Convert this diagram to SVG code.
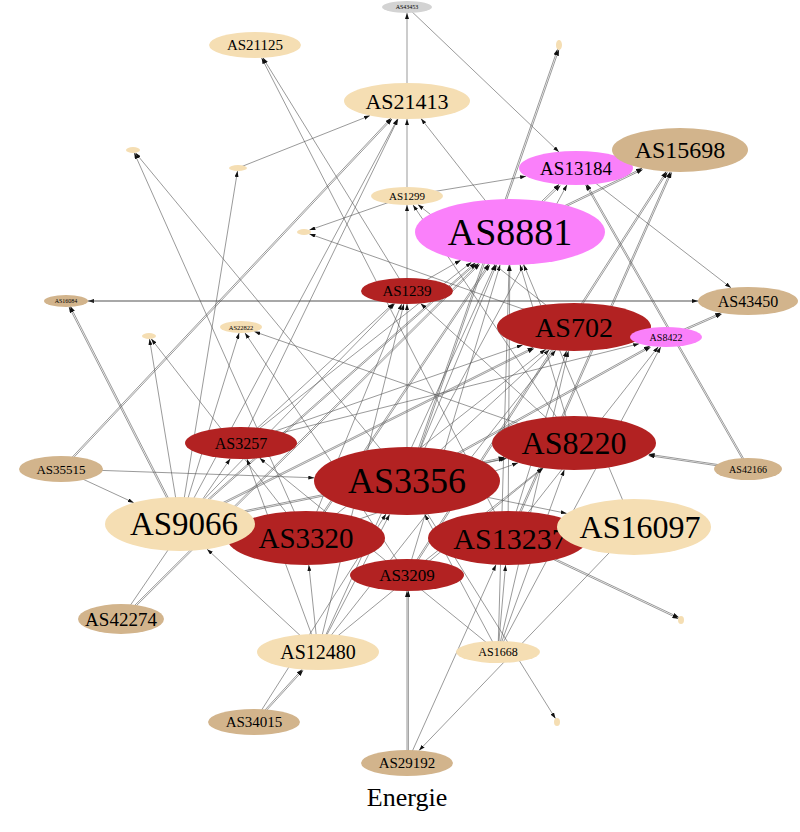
<svg xmlns="http://www.w3.org/2000/svg" width="800" height="832" viewBox="0 0 800 832">
<defs>
<marker id="ah" markerUnits="userSpaceOnUse" markerWidth="6" markerHeight="4" refX="6" refY="2" orient="auto">
<path d="M0,0 L6,2 L0,4 z" fill="#111"/>
</marker>
<style>
.e line{stroke:#555;stroke-width:0.6;fill:none;marker-end:url(#ah)}
.w{fill:#f5deb3}.t{fill:#d2b48c}.r{fill:#b22222}.v{fill:#fa80fa}.g{fill:#d3d3d3}
text{font-family:"Liberation Serif","Times New Roman",serif;text-anchor:middle;dominant-baseline:central;fill:#000}
</style>
</defs>
<rect width="800" height="832" fill="#fff"/>
<g id="edges" class="e">
<line x1="407" y1="101" x2="407" y2="13"/>
<line x1="407" y1="7" x2="559" y2="152"/>
<line x1="407" y1="196" x2="407" y2="119"/>
<line x1="407" y1="291" x2="407" y2="205"/>
<line x1="407" y1="481" x2="407" y2="304"/>
<line x1="510" y1="232" x2="421" y2="118.6"/>
<line x1="241" y1="443" x2="398" y2="119"/>
<line x1="61" y1="469" x2="391" y2="118"/>
<line x1="62" y1="470" x2="392" y2="119"/>
<line x1="180" y1="524" x2="397.5" y2="119"/>
<line x1="238" y1="168" x2="370" y2="115.6"/>
<line x1="180" y1="524" x2="237.5" y2="171"/>
<line x1="306" y1="538" x2="134.3" y2="153"/>
<line x1="407" y1="481" x2="135.4" y2="152.8"/>
<line x1="407" y1="196" x2="309.4" y2="230.1"/>
<line x1="574" y1="327" x2="309.4" y2="233.9"/>
<line x1="748" y1="301" x2="88" y2="301"/>
<line x1="66" y1="301" x2="698" y2="301"/>
<line x1="180" y1="524" x2="69" y2="307"/>
<line x1="181.3" y1="523.3" x2="70.3" y2="306.3"/>
<line x1="180" y1="524" x2="149.5" y2="339"/>
<line x1="306" y1="538" x2="151.2" y2="338.8"/>
<line x1="180" y1="524" x2="239.1" y2="333"/>
<line x1="407" y1="575" x2="245" y2="332.9"/>
<line x1="574" y1="443" x2="254.3" y2="331.6"/>
<line x1="407" y1="291" x2="262.9" y2="57.8"/>
<line x1="508" y1="538" x2="261.6" y2="57.9"/>
<line x1="407" y1="481" x2="557.5" y2="49.3"/>
<line x1="408.4" y1="481.5" x2="558.9" y2="49.8"/>
<line x1="407" y1="196" x2="526.1" y2="176.3"/>
<line x1="510" y1="232" x2="559.2" y2="184.3"/>
<line x1="511" y1="233" x2="560.5" y2="185.5"/>
<line x1="407" y1="481" x2="567" y2="184.8"/>
<line x1="576" y1="168" x2="731" y2="287.8"/>
<line x1="748" y1="469" x2="585.6" y2="184.8"/>
<line x1="749.2" y1="468.3" x2="586.8" y2="184.1"/>
<line x1="510" y1="232" x2="642.1" y2="168.3"/>
<line x1="510.6" y1="233.3" x2="642.7" y2="169.6"/>
<line x1="508" y1="538" x2="670.3" y2="171.8"/>
<line x1="509.3" y1="538.6" x2="671.6" y2="172.4"/>
<line x1="407" y1="575" x2="666.2" y2="171.5"/>
<line x1="408.2" y1="575.8" x2="667.4" y2="172.3"/>
<line x1="666" y1="337" x2="721.1" y2="312.8"/>
<line x1="666.6" y1="338.3" x2="721.7" y2="314.1"/>
<line x1="241" y1="443" x2="639.2" y2="343.7"/>
<line x1="407" y1="481" x2="649.9" y2="346"/>
<line x1="407.7" y1="482.2" x2="650.6" y2="347.2"/>
<line x1="498" y1="652" x2="660.7" y2="346.9"/>
<line x1="508" y1="538" x2="658.3" y2="346.8"/>
<line x1="180" y1="524" x2="533.3" y2="347.4"/>
<line x1="180.6" y1="525.3" x2="533.9" y2="348.6"/>
<line x1="306" y1="538" x2="545.6" y2="349.3"/>
<line x1="407" y1="481" x2="549.4" y2="349.7"/>
<line x1="508" y1="538" x2="566.5" y2="350.9"/>
<line x1="498" y1="652" x2="568.4" y2="351"/>
<line x1="318" y1="652" x2="555.6" y2="350.3"/>
<line x1="241" y1="443" x2="522.7" y2="344.9"/>
<line x1="180" y1="524" x2="475.3" y2="262.7"/>
<line x1="180.9" y1="525" x2="476.2" y2="263.7"/>
<line x1="306" y1="538" x2="488.6" y2="264.1"/>
<line x1="307.2" y1="538.8" x2="489.8" y2="264.9"/>
<line x1="241" y1="443" x2="471.5" y2="262.2"/>
<line x1="318" y1="652" x2="495.1" y2="264.6"/>
<line x1="407" y1="481" x2="496.5" y2="264.6"/>
<line x1="407" y1="575" x2="500.1" y2="264.8"/>
<line x1="508" y1="538" x2="509.8" y2="265"/>
<line x1="121" y1="619" x2="478.7" y2="263.2"/>
<line x1="122" y1="620" x2="479.7" y2="264.2"/>
<line x1="574" y1="443" x2="520" y2="264.8"/>
<line x1="634" y1="527" x2="523.7" y2="264.7"/>
<line x1="498" y1="652" x2="509.1" y2="265"/>
<line x1="407" y1="291" x2="460.8" y2="260.2"/>
<line x1="241" y1="443" x2="393.5" y2="303.4"/>
<line x1="306" y1="538" x2="401.7" y2="303.9"/>
<line x1="318" y1="652" x2="403.8" y2="304"/>
<line x1="180" y1="524" x2="394.8" y2="303.5"/>
<line x1="574" y1="443" x2="420.6" y2="303.4"/>
<line x1="574" y1="443" x2="413" y2="204.9"/>
<line x1="574" y1="327" x2="417.9" y2="204.6"/>
<line x1="748" y1="469" x2="648.6" y2="454.2"/>
<line x1="748" y1="470.4" x2="648.6" y2="455.6"/>
<line x1="407" y1="481" x2="506.6" y2="458.3"/>
<line x1="318" y1="652" x2="543.3" y2="468"/>
<line x1="180" y1="524" x2="504.5" y2="457.3"/>
<line x1="180.3" y1="525.4" x2="504.8" y2="458.7"/>
<line x1="306" y1="538" x2="518.2" y2="462.8"/>
<line x1="407" y1="575" x2="542.5" y2="467.9"/>
<line x1="498" y1="652" x2="564.3" y2="469.8"/>
<line x1="61" y1="469" x2="314.3" y2="477.8"/>
<line x1="498" y1="652" x2="424.8" y2="514.4"/>
<line x1="318" y1="652" x2="389.6" y2="514.4"/>
<line x1="254" y1="722" x2="386" y2="514"/>
<line x1="634" y1="527" x2="419" y2="750.5"/>
<line x1="407" y1="481" x2="566.8" y2="513.4"/>
<line x1="254" y1="722" x2="302.1" y2="669.4"/>
<line x1="255" y1="723" x2="303.1" y2="670.3"/>
<line x1="318" y1="652" x2="207.1" y2="549.2"/>
<line x1="318" y1="652" x2="246.9" y2="458.9"/>
<line x1="318" y1="652" x2="308.8" y2="565"/>
<line x1="498" y1="652" x2="505.6" y2="565"/>
<line x1="498" y1="652" x2="259.6" y2="458.1"/>
<line x1="407" y1="763" x2="407" y2="591"/>
<line x1="408.4" y1="763" x2="408.4" y2="591"/>
<line x1="407" y1="763" x2="496" y2="564.7"/>
<line x1="508" y1="538" x2="678.3" y2="618.7"/>
<line x1="508.6" y1="536.7" x2="678.9" y2="617.4"/>
<line x1="407" y1="481" x2="555.5" y2="718.6"/>
<line x1="121" y1="619" x2="230.3" y2="458.7"/>
<line x1="61" y1="469" x2="133.8" y2="502.7"/>
</g>
<g id="n43453"><ellipse class="g" cx="407" cy="7" rx="25" ry="6"/><text x="407" y="7" font-size="6">AS43453</text></g>
<g id="n21125"><ellipse class="w" cx="255" cy="45" rx="46" ry="13"/><text x="255" y="45" font-size="15">AS21125</text></g>
<g id="n21413"><ellipse class="w" cx="407" cy="101" rx="63" ry="18"/><text x="407" y="101" font-size="22">AS21413</text></g>
<g id="t1"><ellipse class="w" cx="133" cy="150" rx="7" ry="3"/></g>
<g id="t2"><ellipse class="w" cx="238" cy="168" rx="9" ry="3"/></g>
<g id="t5"><ellipse class="w" cx="559" cy="45" rx="3" ry="5"/></g>
<g id="n13184"><ellipse class="v" cx="576" cy="168" rx="57" ry="17"/><text x="576" y="168" font-size="19">AS13184</text></g>
<g id="n15698"><ellipse class="t" cx="680" cy="150" rx="68" ry="22"/><text x="680" y="150" font-size="24">AS15698</text></g>
<g id="n1299"><ellipse class="w" cx="407" cy="196" rx="36" ry="9"/><text x="407" y="196" font-size="11">AS1299</text></g>
<g id="n8881"><ellipse class="v" cx="510" cy="232" rx="95" ry="33"/><text x="510" y="232" font-size="38">AS8881</text></g>
<g id="t3"><ellipse class="w" cx="304" cy="232" rx="7" ry="3"/></g>
<g id="n1239"><ellipse class="r" cx="407" cy="291" rx="46" ry="13"/><text x="407" y="291" font-size="15">AS1239</text></g>
<g id="n16084"><ellipse class="t" cx="66" cy="301" rx="22" ry="6"/><text x="66" y="301" font-size="6">AS16084</text></g>
<g id="n43450"><ellipse class="t" cx="748" cy="301" rx="50" ry="14"/><text x="748" y="301" font-size="16">AS43450</text></g>
<g id="n702"><ellipse class="r" cx="574" cy="327" rx="77" ry="24"/><text x="574" y="327" font-size="28">AS702</text></g>
<g id="n8422"><ellipse class="v" cx="666" cy="337" rx="36" ry="10"/><text x="666" y="337" font-size="10">AS8422</text></g>
<g id="t4"><ellipse class="w" cx="149" cy="336" rx="7" ry="3"/></g>
<g id="n22822"><ellipse class="w" cx="241" cy="327" rx="21" ry="6"/><text x="241" y="327" font-size="6.5">AS22822</text></g>
<g id="n3257"><ellipse class="r" cx="241" cy="443" rx="56" ry="16"/><text x="241" y="443" font-size="16">AS3257</text></g>
<g id="n8220"><ellipse class="r" cx="574" cy="443" rx="82" ry="27"/><text x="574" y="443" font-size="32">AS8220</text></g>
<g id="n35515"><ellipse class="t" cx="61" cy="469" rx="42" ry="13"/><text x="61" y="469" font-size="13">AS35515</text></g>
<g id="n42166"><ellipse class="t" cx="748" cy="469" rx="34" ry="11"/><text x="748" y="469" font-size="10">AS42166</text></g>
<g id="n3356"><ellipse class="r" cx="407" cy="481" rx="93" ry="34"/><text x="407" y="481" font-size="36">AS3356</text></g>
<g id="n3320"><ellipse class="r" cx="306" cy="538" rx="79" ry="27"/><text x="306" y="538" font-size="29">AS3320</text></g>
<g id="n9066"><ellipse class="w" cx="180" cy="524" rx="75" ry="27"/><text x="184" y="524" font-size="33">AS9066</text></g>
<g id="n13237"><ellipse class="r" cx="508" cy="538" rx="80" ry="27"/><text x="510" y="538" font-size="30">AS13237</text></g>
<g id="n16097"><ellipse class="w" cx="634" cy="527" rx="77" ry="28"/><text x="640" y="527" font-size="32">AS16097</text></g>
<g id="n3209"><ellipse class="r" cx="407" cy="575" rx="57" ry="16"/><text x="407" y="575" font-size="17">AS3209</text></g>
<g id="n42274"><ellipse class="t" cx="121" cy="619" rx="43" ry="15"/><text x="121" y="619" font-size="19">AS42274</text></g>
<g id="n12480"><ellipse class="w" cx="318" cy="652" rx="61" ry="18"/><text x="318" y="652" font-size="20">AS12480</text></g>
<g id="n1668"><ellipse class="w" cx="498" cy="652" rx="42" ry="11"/><text x="498" y="652" font-size="12">AS1668</text></g>
<g id="t6"><ellipse class="w" cx="681" cy="620" rx="3" ry="4"/></g>
<g id="n34015"><ellipse class="t" cx="254" cy="722" rx="46" ry="13"/><text x="254" y="722" font-size="15">AS34015</text></g>
<g id="t7"><ellipse class="w" cx="557" cy="722" rx="3" ry="4"/></g>
<g id="n29192"><ellipse class="t" cx="407" cy="763" rx="46" ry="13"/><text x="407" y="763" font-size="15">AS29192</text></g>
<text x="407" y="797" font-size="26">Energie</text>
</svg>
